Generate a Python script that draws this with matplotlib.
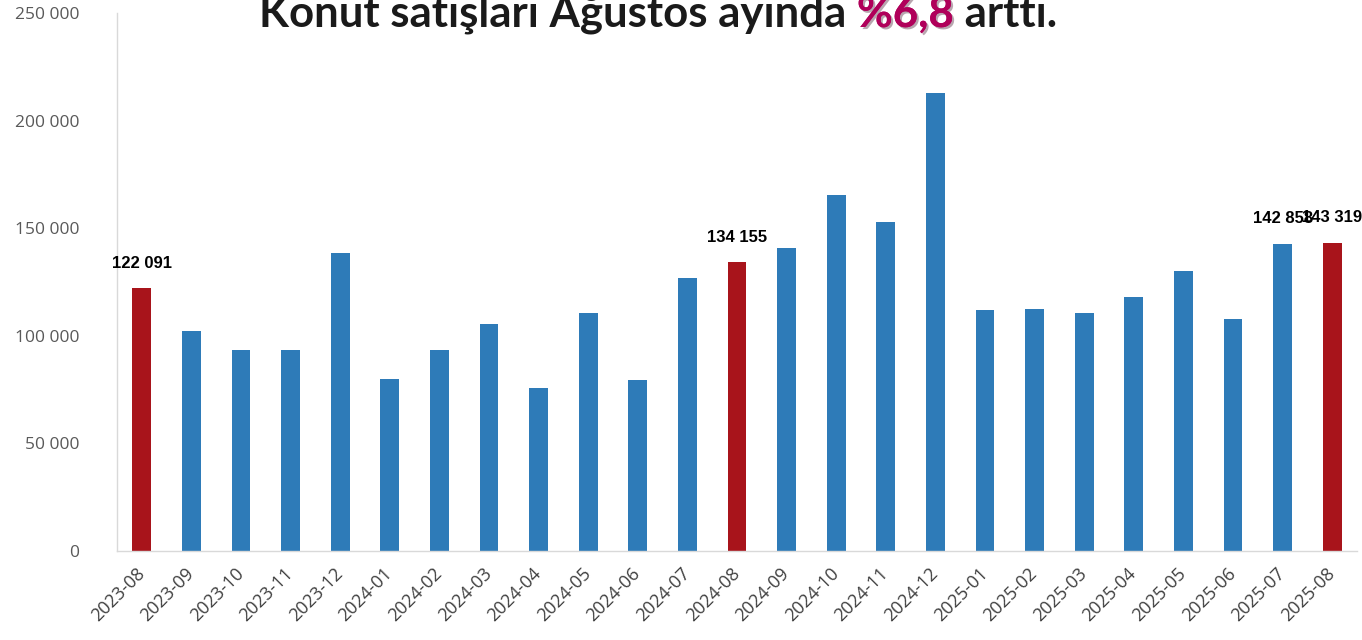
import matplotlib
matplotlib.use("Agg")
import matplotlib.pyplot as plt
from matplotlib import patheffects as pe
from matplotlib.transforms import ScaledTranslation

months = ["2023-08", "2023-09", "2023-10", "2023-11", "2023-12",
          "2024-01", "2024-02", "2024-03", "2024-04", "2024-05", "2024-06",
          "2024-07", "2024-08", "2024-09", "2024-10", "2024-11", "2024-12",
          "2025-01", "2025-02", "2025-03", "2025-04", "2025-05", "2025-06",
          "2025-07", "2025-08"]
sales = [122091, 102181, 93425, 93203, 138445,
         80061, 93519, 105394, 75569, 110588, 79313,
         126929, 134155, 140651, 165243, 152829, 212641,
         111927, 112481, 110700, 118191, 130025, 107723,
         142858, 143319]
highlight = ["2023-08", "2024-08", "2025-08"]
labeled = ["2023-08", "2024-08", "2025-07", "2025-08"]
yticks = [0, 50000, 100000, 150000, 200000, 250000]
title_parts = [("Konut satışları Ağustos ayında ", "#1a1a1a"), ("%6,8", "#b0005a"), (" arttı.", "#1a1a1a")]

BLUE = "#2e7bb8"
RED = "#a8141b"

fig = plt.figure(figsize=(13.62, 6.4), dpi=100)
ax = fig.add_axes([117/1362, 1-551/640, (1357-117)/1362, (551-13)/640])

x = list(range(len(months)))
colors = [RED if m in highlight else BLUE for m in months]
ax.bar(x, sales, width=0.38, color=colors, zorder=2)

ax.set_xlim(-0.5, len(months)-0.5)
ax.set_ylim(0, 250000)
ax.set_yticks(yticks)
ax.set_yticklabels([f"{v:,}".replace(",", " ") for v in yticks],
                   fontfamily="Open Sans", fontsize=12.5, color="#595959")
ax.set_xticks(x)
ax.set_xticklabels(months, rotation=45, ha="right", va="center",
                   rotation_mode="anchor", fontfamily="Open Sans",
                   fontsize=13, color="#404040")
shift = ScaledTranslation(10/100, -3/100, fig.dpi_scale_trans)
for lab in ax.get_xticklabels():
    lab.set_transform(lab.get_transform() + shift)
ax.tick_params(axis="both", length=0)
ax.tick_params(axis="y", pad=27)
ax.tick_params(axis="x", pad=14)
for s in ["top", "right"]:
    ax.spines[s].set_visible(False)
ax.spines["left"].set_color("#d9d9d9")
ax.spines["bottom"].set_color("#d9d9d9")
ax.spines["left"].set_linewidth(1.0)
ax.spines["bottom"].set_linewidth(1.0)

for i, (m, v) in enumerate(zip(months, sales)):
    if m in labeled:
        ax.annotate(f"{v:,}".replace(",", " "), (i, v), xytext=(0, 18),
                    textcoords="offset points", ha="center", va="center",
                    fontfamily="Liberation Sans", fontweight="bold",
                    fontsize=12, color="#000000")

# Title composed of coloured pieces
fig.canvas.draw()
renderer = fig.canvas.get_renderer()
texts = []
for s, c in title_parts:
    kw = dict(fontfamily="Lato", fontweight="bold", fontsize=31.5, color=c,
              va="baseline", ha="left")
    if c != "#1a1a1a":
        kw["path_effects"] = [pe.withSimplePatchShadow(offset=(1.5, -1.5), alpha=0.35),
                              pe.Normal()]
    t = fig.text(0, 1 - 27/640, s, **kw)
    texts.append(t)
widths = [t.get_window_extent(renderer).width for t in texts]
total = sum(widths)
start = (658 - total/2)
xpos = start
for t, w in zip(texts, widths):
    t.set_x(xpos / 1362)
    xpos += w

fig.savefig("out.png", dpi=100)
